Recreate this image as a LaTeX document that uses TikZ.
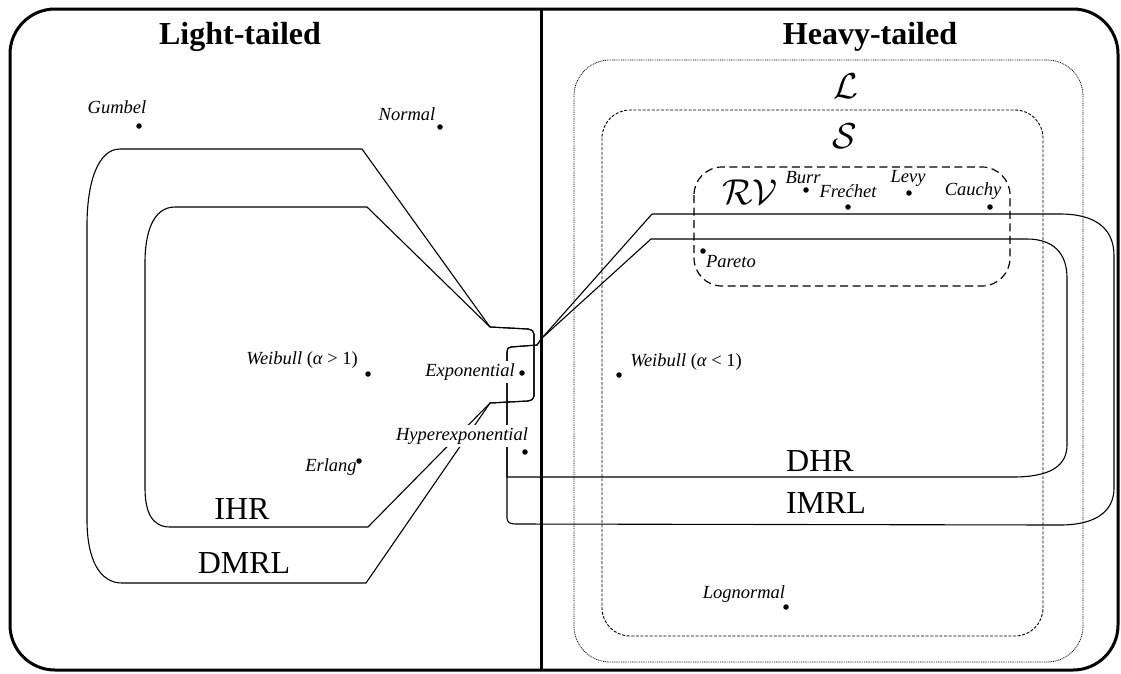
\RequirePackage{fix-cm}
\documentclass[tikz,border=0pt]{standalone}
\usepackage{fontspec}
\setmainfont{Liberation Serif}
\begin{document}
\begin{tikzpicture}[x=1pt,y=-1pt,
  thinline/.style={line width=1.1pt, line join=round},
  framel/.style={line width=3pt},
  dotpt/.style={circle, fill=black, inner sep=0pt, minimum size=5.5pt},
  lab/.style={font=\fontsize{18.5}{20}\selectfont\itshape, inner sep=1pt},
  whitelab/.style={lab, fill=white, inner sep=3pt},
  big/.style={font=\fontsize{32}{34}\selectfont, inner sep=0pt},
  head/.style={font=\fontsize{32}{34}\selectfont\bfseries, inner sep=0pt},
  cal/.style={font=\fontsize{36}{38}\selectfont, inner sep=0pt},
  Lbox/.style={line width=0.8pt, dash pattern=on 0.9pt off 0.9pt},
  Sbox/.style={line width=0.9pt, dash pattern=on 3pt off 1.6pt},
  RVbox/.style={line width=1.2pt, dash pattern=on 8pt off 4.5pt}]
\useasboundingbox (0,0) rectangle (1121,673);
% frame and divider
\draw[framel, rounded corners=45pt] (10,9) rectangle (1118,670);
\draw[framel] (541,9) -- (541,670);
% class boxes
\draw[Lbox, rounded corners=36pt] (574,60) rectangle (1083,662);
\draw[Sbox, rounded corners=28pt] (602,110) rectangle (1043,636);
\draw[RVbox, rounded corners=28pt] (694,167) rectangle (1010,286);
% DMRL
\draw[thinline] (362,149) -- (120,149) .. controls (97,149) and (87,185) .. (87,225)
  -- (87,520) .. controls (87,560) and (100,583) .. (122,583) -- (366,583) -- (490,403)
  -- (528,401) .. controls (532,400) and (534,399) .. (534,396) -- (534,334)
  .. controls (534,331) and (532,330) .. (528,329) -- (490,327) -- cycle;
% IHR
\draw[thinline] (367,207) -- (175,207) .. controls (152,207) and (145,235) .. (145,262)
  -- (145,488) .. controls (145,512) and (152,527) .. (170,527) -- (368,527) -- (490,403)
  -- (528,401) .. controls (532,400) and (534,399) .. (534,396) -- (534,334)
  .. controls (534,331) and (532,330) .. (528,329) -- (490,327) -- cycle;
% DHR
\draw[thinline] (651,239) -- (1027,239) .. controls (1052,239) and (1067,252) .. (1067,278)
  -- (1067,445) .. controls (1067,466) and (1050,477) .. (1013,477) -- (507,477)
  -- (507,352) .. controls (507,349) and (508,347) .. (511,347) -- (537,345) -- (542,338) -- cycle;
% IMRL
\draw[thinline] (652,214) -- (1060,214) .. controls (1095,214) and (1114,228) .. (1114,256)
  -- (1114,488) .. controls (1114,512) and (1095,525) .. (1060,525) -- (515,524)
  .. controls (510,524) and (507,522) .. (507,518)
  -- (507,352) .. controls (507,349) and (508,347) .. (511,347) -- (537,345) -- (542,338) -- cycle;
% headings
\node[head] (lt) at (240,37) {Light-tailed};
\node[head] (ht) at (870,37) {Heavy-tailed};
% class labels
\node[big] (ihr) at (242,509) {IHR};
\node[big] (dmrl) at (244,563) {DMRL};
\node[big] (dhr) at (820,461) {DHR};
\node[big] (imrl) at (826,503) {IMRL};
\node[cal] (Ls) at (846,86) {$\mathcal{L}$};
\node[cal] (Ss) at (845,136) {$\mathcal{S}$};
\node[cal] (RVs) at (750,192) {$\mathcal{R}\mathcal{V}$};
% distribution labels
\node[lab] (tgum) at (117,107) {Gumbel};
\node[lab] (tnor) at (407,114) {Normal};
\node[lab] (twg) at (302,360) {Weibull {\upshape(}α {\upshape> 1)}};
\node[whitelab] (texp) at (470,372) {Exponential};
\node[lab] (terl) at (331,467) {Erlang};
\node[whitelab] (thyp) at (462,436) {Hyperexponential};
\node[lab] (twl) at (686,362) {Weibull {\upshape(}α {\upshape< 1)}};
\node[lab] (tpar) at (731,262) {Pareto};
\node[lab] (tlog) at (744,594) {Lognormal};
\node[lab] (tbur) at (803,178) {Burr};
\node[lab] (tfre) at (848,191) {Fre\'chet};
\node[lab] (tlev) at (908,178) {Levy};
\node[lab] (tcau) at (973,191) {Cauchy};
% dots
\node[dotpt] (gum) at (139,126) {};
\node[dotpt] (nor) at (440,127) {};
\node[dotpt] (wg) at (368,374) {};
\node[dotpt] (exp) at (522,373) {};
\node[dotpt] (erl) at (359,461) {};
\node[dotpt] (hyp) at (525,452) {};
\node[dotpt] (wl) at (619,375) {};
\node[dotpt] (par) at (703,251) {};
\node[dotpt] (log) at (786,607) {};
\node[dotpt] (bur) at (806,190) {};
\node[dotpt] (fre) at (848,207) {};
\node[dotpt] (lev) at (909,193) {};
\node[dotpt] (cau) at (990,207) {};
\end{tikzpicture}
\end{document}
